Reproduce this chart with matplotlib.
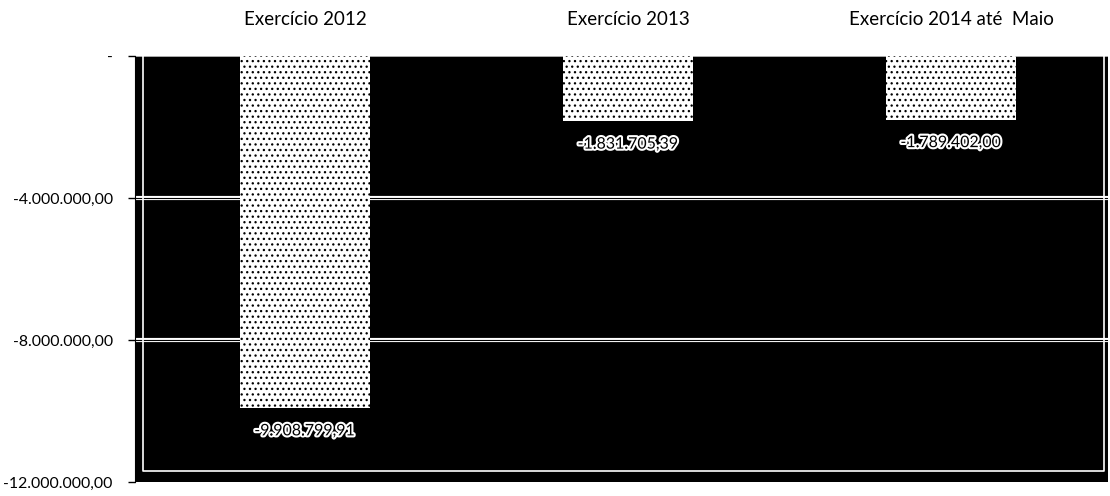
import numpy as np
import matplotlib
matplotlib.use("Agg")
from matplotlib import pyplot as plt
import matplotlib.patheffects as pe
from matplotlib.ticker import FuncFormatter

# region Data
categories = ["Exercício 2012", "Exercício 2013", "Exercício 2014 até  Maio"]
values = [-9908799.91, -1831705.39, -1789402.00]
yTicks = [0, -4000000, -8000000, -12000000]
# endregion


def br_number(v):
    # 1234567.8 -> "1.234.567,80"
    s = "{:,.2f}".format(v)
    return s.replace(",", "X").replace(".", ",").replace("X", ".")


def tick_fmt(v, pos):
    if abs(v) < 0.5:
        return "-"
    return br_number(v)


plt.rcParams['font.family'] = ['Lato', 'DejaVu Sans']
plt.rcParams['hatch.linewidth'] = 0.9

fig = plt.figure(figsize=(11.1, 4.96), dpi=100)
W, H = 1110, 496
# axes box in pixels: left 135, right 1108, top 56, bottom 482
ax = fig.add_axes([135 / W, (H - 482) / H, (1108 - 135) / W, (482 - 56) / H])
ax.set_facecolor("black")

x = np.arange(len(categories))
bars = ax.bar(x, values, width=0.4, color="white", edgecolor="black",
              linewidth=0, hatch="...", zorder=3)

ax.set_xlim(-0.526, 2.486)
ax.set_ylim(-12000000, 0)
ax.set_yticks(yTicks)
ax.yaxis.set_major_formatter(FuncFormatter(tick_fmt))
ax.tick_params(axis="y", length=5, width=1, labelsize=11.4, pad=11)
ax.set_xticks([])

# gridlines drawn as double white lines
for g in yTicks[1:-1]:
    ax.axhline(g, color="white", lw=3, zorder=1)
    ax.axhline(g, color="black", lw=0.8, zorder=1)
ax.axhline(0, color="#cccccc", lw=1.2, zorder=1)

# inner frame of the plot area
ax.plot([0.008, 0.008, 0.996, 0.996], [1.0, 0.026, 0.026, 1.0],
        transform=ax.transAxes, color="white", lw=1.2, zorder=1)

for s in ["top", "right", "bottom"]:
    ax.spines[s].set_visible(False)
ax.spines["left"].set_color("black")

# category labels above the plot
for xi, c in zip(x, categories):
    ax.annotate(c, xy=(xi, 1), xycoords=("data", "axes fraction"),
                xytext=(0, 26), textcoords="offset points",
                ha="center", va="center", fontsize=13.5, color="black")

# value labels under each bar
for xi, v in zip(x, values):
    t = ax.annotate(br_number(v), xy=(xi, v), xytext=(0, -17),
                    textcoords="offset points", ha="center", va="center",
                    fontsize=11.5, color="black", zorder=5)
    t.set_path_effects([pe.withStroke(linewidth=3, foreground="white")])

plt.savefig("out.png", dpi=100)
